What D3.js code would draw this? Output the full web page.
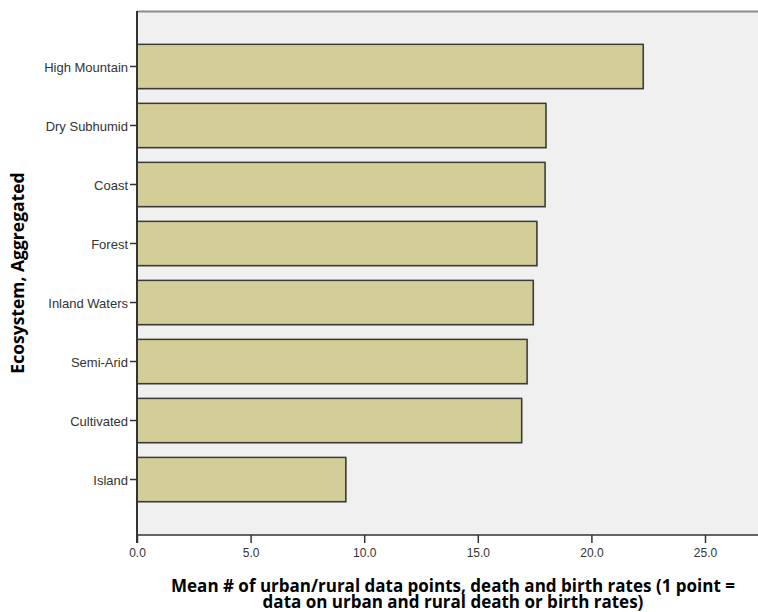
<!DOCTYPE html>
<html>
<head>
<meta charset="utf-8">
<script src="https://cdn.jsdelivr.net/npm/d3@7"></script>
<style>
  html, body { margin: 0; padding: 0; background: #ffffff; }
  svg { display: block; }
  text { font-family: "Liberation Sans", Arial, sans-serif; }
  .title { font-family: "Open Sans", "DejaVu Sans", sans-serif; font-weight: bold; }
</style>
</head>
<body>
<svg id="chart" width="758" height="612"></svg>
<script>
// Mean number of urban/rural data points by aggregated ecosystem
const categories = ["High Mountain", "Dry Subhumid", "Coast", "Forest", "Inland Waters", "Semi-Arid", "Cultivated", "Island"];
const meanValues = [22.28, 18.0, 17.96, 17.6, 17.44, 17.17, 16.93, 9.19];
const xTicks = [0, 5, 10, 15, 20, 25];
const xTitleLines = ["Mean # of urban/rural data points, death and birth rates (1 point =", "data on urban and rural death or birth rates)"];
const yTitle = "Ecosystem, Aggregated";

const W = 758, H = 612;
const plot = { left: 137, top: 11, right: 758, bottom: 535 };

const svg = d3.select("#chart");

const x = d3.scaleLinear().domain([0, 25]).range([plot.left, 705]);
const y = d3.scaleBand().domain(categories).range([plot.top, plot.bottom])
  .paddingInner(0.25).paddingOuter(0.565);

// plot background
svg.append("rect")
  .attr("x", plot.left).attr("y", plot.top)
  .attr("width", plot.right - plot.left).attr("height", plot.bottom - plot.top)
  .attr("fill", "#f0f0f0");

// top frame line
svg.append("line")
  .attr("x1", plot.left).attr("x2", plot.right)
  .attr("y1", plot.top + 0.5).attr("y2", plot.top + 0.5)
  .attr("stroke", "#8a8a8a").attr("stroke-width", 2);

// bar shadows
svg.append("g").selectAll("rect")
  .data(categories)
  .join("rect")
  .attr("x", x(0))
  .attr("y", d => y(d) + 1)
  .attr("width", (d, i) => x(meanValues[i]) - x(0) + 1)
  .attr("height", y.bandwidth())
  .attr("fill", "#bdbdbd");

// bars
svg.append("g").selectAll("rect")
  .data(categories)
  .join("rect")
  .attr("x", x(0))
  .attr("y", d => y(d))
  .attr("width", (d, i) => x(meanValues[i]) - x(0))
  .attr("height", y.bandwidth())
  .attr("fill", "#d3ce97")
  .attr("stroke", "#3a3a3a")
  .attr("stroke-width", 1.5);

// x axis
const xAxis = svg.append("g")
  .attr("transform", `translate(0,${plot.bottom})`)
  .call(d3.axisBottom(x).tickValues(xTicks).tickFormat(d3.format(".1f")).tickSize(8).tickSizeOuter(0));
xAxis.select(".domain").remove();
xAxis.append("line")
  .attr("x1", plot.left).attr("x2", plot.right)
  .attr("stroke", "#333").attr("stroke-width", 1.5);
xAxis.selectAll(".tick line").attr("stroke", "#333").attr("stroke-width", 1.5);
xAxis.selectAll(".tick text")
  .attr("font-size", 12).attr("fill", "#333").attr("dy", "0.95em")
  .style("font-family", "'Liberation Sans', Arial, sans-serif");

// y axis
const yAxis = svg.append("g")
  .attr("transform", `translate(${plot.left},0)`)
  .call(d3.axisLeft(y).tickSize(7).tickPadding(2).tickSizeOuter(0));
yAxis.select(".domain").remove();
yAxis.append("line")
  .attr("x1", 0).attr("x2", 0)
  .attr("y1", plot.top).attr("y2", plot.bottom + 8)
  .attr("stroke", "#333").attr("stroke-width", 2);
yAxis.selectAll(".tick line").attr("stroke", "#333").attr("stroke-width", 1.5);
yAxis.selectAll(".tick text")
  .attr("font-size", 13).attr("fill", "#333").attr("dy", "0.45em")
  .style("font-family", "'Liberation Sans', Arial, sans-serif");

// axis titles
svg.append("text")
  .attr("class", "title")
  .attr("transform", `translate(24,${(plot.top + plot.bottom) / 2}) rotate(-90)`)
  .attr("text-anchor", "middle")
  .attr("font-size", 17.5).attr("fill", "#000")
  .text(yTitle);

// two-line x title in one text block
svg.append("text")
  .attr("class", "title")
  .attr("text-anchor", "middle")
  .attr("font-size", 17).attr("fill", "#000")
  .selectAll("tspan")
  .data(xTitleLines)
  .join("tspan")
  .attr("x", 453)
  .attr("y", (d, i) => 592 + i * 15.5)
  .text(d => d);
</script>
</body>
</html>
